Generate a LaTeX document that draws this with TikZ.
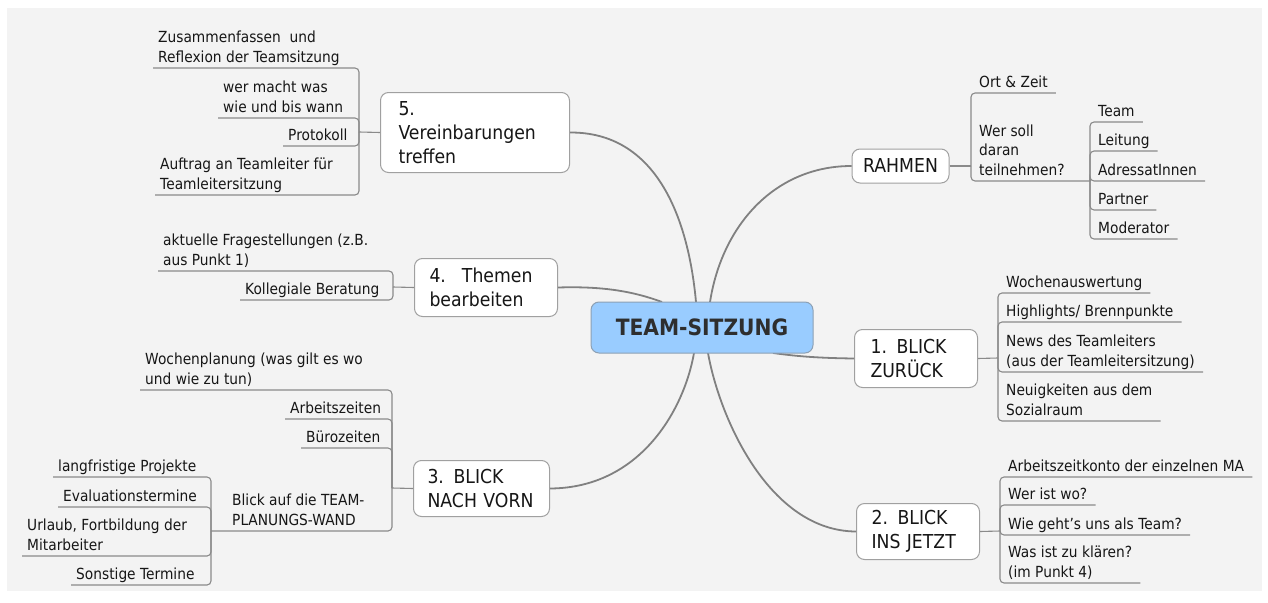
\documentclass[tikz,border=0pt]{standalone}
\usepackage{fontspec}
\setmainfont{DejaVu Sans}[FakeStretch=0.9]
\definecolor{bgpanel}{HTML}{F3F3F3}
\definecolor{linegray}{HTML}{808080}
\definecolor{subline}{HTML}{8A8A8A}
\definecolor{boxborder}{HTML}{A0A0A0}
\definecolor{centralfill}{HTML}{99CCFF}
\definecolor{centralborder}{HTML}{8CA0B4}
\definecolor{txt}{HTML}{161616}
\newcommand\leafstrut{\rule[-4pt]{0pt}{4pt}}
\begin{document}
\begin{tikzpicture}[x=1pt,y=-1pt,
  every node/.style={text=txt},
  central/.style={draw=centralborder, fill=centralfill, rounded corners=8pt, line width=1pt,
    minimum width=222pt, minimum height=51pt, font=\fontsize{22.5}{26}\selectfont\bfseries, text=black!82},
  topic/.style={draw=boxborder, fill=white, rounded corners=8pt, line width=1pt,
    font=\fontsize{19.2}{24}\selectfont, align=left, anchor=north west, inner ysep=0pt},
  leafR/.style={anchor=south west, inner xsep=8pt, inner ysep=1.5pt, align=left,
    font=\fontsize{15.3}{19.5}\selectfont, execute at end node=\leafstrut},
  leafL/.style={anchor=south west, inner xsep=5pt, inner ysep=1.5pt, align=left,
    font=\fontsize{15.3}{19.5}\selectfont, execute at end node=\leafstrut},
  branch/.style={draw=linegray, line width=1.8pt},
  twig/.style={draw=subline, line width=1.1pt, rounded corners=4pt},
]
\useasboundingbox (0,0) rectangle (1268,602);
\fill[white] (0,0) rectangle (1268,602);
\fill[bgpanel] (7,8) rectangle (1262,591);

% ---------- main topics ----------
\node[topic, text width=153pt, inner xsep=18pt, minimum height=80pt] (t5) at (380,92) {5.\\Vereinbarungen\\treffen};
\node[topic, text width=113pt, inner xsep=15pt, minimum height=58pt] (t4) at (414,258) {4.~ Themen\\bearbeiten};
\node[topic, text width=108pt, inner xsep=14pt, minimum height=56pt] (t3) at (413,460) {3. BLICK\\NACH VORN};
\node[topic, anchor=center, minimum width=97pt, minimum height=34pt, inner xsep=4pt] (rahmen) at (900.5,166) {RAHMEN};
\node[topic, text width=91pt, inner xsep=16pt, minimum height=58pt] (t1) at (854,329) {1. BLICK\\ZURÜCK};
\node[topic, text width=93pt, inner xsep=15pt, minimum height=56pt] (t2) at (856,503) {2. BLICK\\INS JETZT};

% ---------- central ----------
\coordinate (c5) at (696,302);
\coordinate (cR) at (710,302);
\coordinate (c4) at (662,302);
\coordinate (c3) at (694,353);
\coordinate (c2) at (708,353);
\coordinate (c1) at (773,353);
\draw[branch] (t5.east) .. controls (655,132) and (688,215) .. (c5);
\draw[branch] (rahmen.west) .. controls (775,166) and (722,225) .. (cR);
\draw[branch] (t4.east) .. controls (605,286) and (635,292) .. (c4);
\draw[branch] (t3.east) .. controls (640,488) and (684,410) .. (c3);
\draw[branch] (t2.west) .. controls (770,531) and (720,420) .. (c2);
\draw[branch] (t1.west) .. controls (815,358) and (795,356) .. (c1);
\node[central] (center) at (702,327.5) {TEAM-SITZUNG};

% ---------- RAHMEN ----------
\coordinate (jR) at (971,166);
\draw[twig] (rahmen.east) -- (jR);
\node[leafR] (ort) at (971,93) {Ort \& Zeit};
\draw[twig] (jR) |- (ort.south east);
\node[leafR] (wer) at (971,181) {Wer soll\\daran\\teilnehmen?};
\coordinate (jW) at (1090,181);
\draw[twig] (jR) |- (jW);
\node[leafR] (team) at (1090,122) {Team};
\node[leafR] (leitung) at (1090,151) {Leitung};
\node[leafR] (adressat) at (1090,181) {AdressatInnen};
\node[leafR] (partner) at (1090,210) {Partner};
\node[leafR] (moderator) at (1090,239) {Moderator};
\foreach \n in {team,leitung,adressat,partner,moderator}
  \draw[twig] (jW) |- (\n.south east);

% ---------- 1. BLICK ZURUECK ----------
\coordinate (j1) at (998,358);
\draw[twig] (t1.east) -- (j1);
\node[leafR] (wochen) at (998,293) {Wochenauswertung};
\node[leafR] (highlights) at (998,322) {Highlights/ Brennpunkte};
\node[leafR] (news) at (998,372) {News des Teamleiters\\(aus der Teamleitersitzung)};
\node[leafR] (neuig) at (998,421) {Neuigkeiten aus dem\\Sozialraum};
\foreach \n in {wochen,highlights,news,neuig}
  \draw[twig] (j1) |- (\n.south east);

% ---------- 2. BLICK INS JETZT ----------
\coordinate (j2) at (1000,531);
\draw[twig] (t2.east) -- (j2);
\node[leafR] (azk) at (1000,477) {Arbeitszeitkonto der einzelnen MA};
\node[leafR] (werwo) at (1000,505) {Wer ist wo?};
\node[leafR] (wiegehts) at (1000,535) {Wie geht's uns als Team?};
\node[leafR] (klaeren) at (1000,583) {Was ist zu klären?\\(im Punkt 4)};
\foreach \n in {azk,werwo,wiegehts,klaeren}
  \draw[twig] (j2) |- (\n.south east);

% ---------- 5. Vereinbarungen ----------
\coordinate (j5) at (359,132);
\draw[twig] (t5.west) -- (j5);
\node[leafL] (zus) at (153,68) {Zusammenfassen~ und\\Reflexion der Teamsitzung};
\node[leafL] (wermacht) at (218,118) {wer macht was\\wie und bis wann};
\node[leafL] (protokoll) at (283,146) {Protokoll};
\node[leafL] (auftrag) at (155,195) {Auftrag an Teamleiter für\\Teamleitersitzung};
\foreach \n in {zus,wermacht,protokoll,auftrag}
  \draw[twig] (j5) |- (\n.south west);

% ---------- 4. Themen ----------
\coordinate (j4) at (393,287);
\draw[twig] (t4.west) -- (j4);
\node[leafL] (aktuelle) at (158,271) {aktuelle Fragestellungen (z.B.\\aus Punkt 1)};
\node[leafL] (kollegiale) at (240,300) {Kollegiale Beratung};
\foreach \n in {aktuelle,kollegiale}
  \draw[twig] (j4) |- (\n.south west);

% ---------- 3. BLICK NACH VORN ----------
\coordinate (j3) at (392,488);
\draw[twig] (t3.west) -- (j3);
\node[leafL] (wochenpl) at (140,390) {Wochenplanung (was gilt es wo\\und wie zu tun)};
\node[leafL] (arbeitsz) at (285,419) {Arbeitszeiten};
\node[leafL] (buero) at (301,448) {Bürozeiten};
\node[leafL] (blickauf) at (227,531) {Blick auf die TEAM-\\PLANUNGS-WAND};
\coordinate (jB) at (211,531);
\foreach \n in {wochenpl,arbeitsz,buero}
  \draw[twig] (j3) |- (\n.south west);
\draw[twig] (j3) |- (jB);
\node[leafL] (langfr) at (53,477) {langfristige Projekte};
\node[leafL] (eval) at (58,507) {Evaluationstermine};
\node[leafL] (urlaub) at (22,556) {Urlaub, Fortbildung der\\Mitarbeiter};
\node[leafL] (sonstige) at (71,585) {Sonstige Termine};
\foreach \n in {langfr,eval,urlaub,sonstige}
  \draw[twig] (jB) |- (\n.south west);
\end{tikzpicture}
\end{document}
